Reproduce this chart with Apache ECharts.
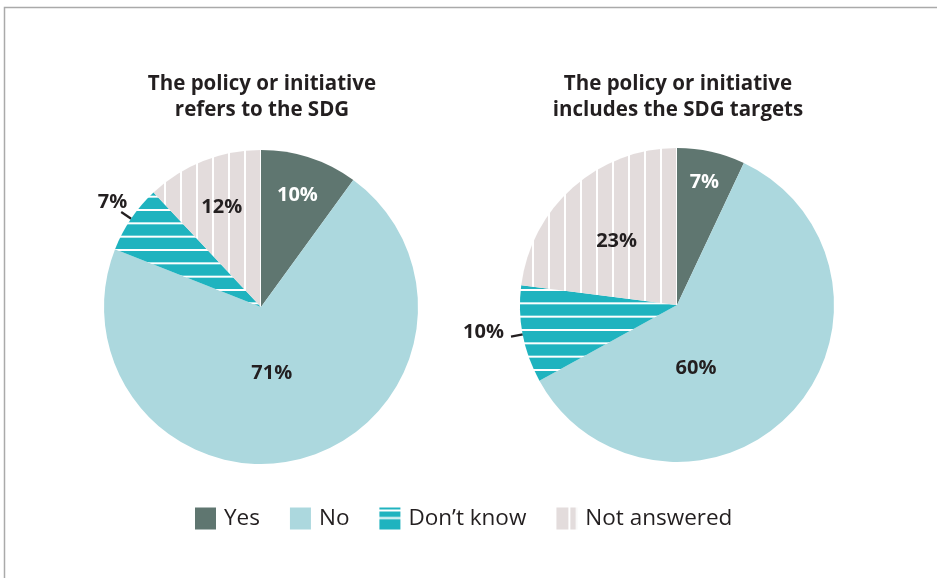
<!DOCTYPE html>
<html><head><meta charset="utf-8">
<script src="https://cdn.jsdelivr.net/npm/echarts@6/dist/echarts.min.js"></script>
<style>html,body{margin:0;padding:0;background:#fff}#c{width:937px;height:578px}</style>
</head><body><div id="c"></div>
<script>
// ---- data ----
const categories = ['Yes', 'No', 'Don\u2019t know', 'Not answered'];
const refersValues = [10, 71, 7, 12];
const targetsValues = [7, 60, 10, 23];
const chartTitles = ['The policy or initiative\nrefers to the SDG', 'The policy or initiative\nincludes the SDG targets'];

// ---- style ----
const FONT = '"Open Sans", "Noto Sans", sans-serif';
const TEXT = '#231f20';
const R = 157;
const centers = [[261, 307], [677, 305]];
// label placement per slice: [radius fraction, angle shift deg] (null = outside)
const labelPlace = [
  [[0.75, 0], [0.43, 7], null, [0.68, 0]],
  [[0.8, 0], [0.42, 30], null, [0.56, -2]]
];
// small nudge for outside labels [dx, dy]
const outsideNudge = [[11, -10], [-2, -4]];

function stripeCanvas(w, h, vertical, bg, lines, lw) {
  const c = document.createElement('canvas');
  c.width = w; c.height = h;
  const x = c.getContext('2d');
  x.fillStyle = bg; x.fillRect(0, 0, w, h);
  x.fillStyle = '#ffffff';
  lines.forEach(p => { if (vertical) x.fillRect(p, 0, lw, h); else x.fillRect(0, p, w, lw); });
  return c;
}
const dkPattern = { image: stripeCanvas(40, 40, false, '#1fb3bf', [0, 13.33, 26.67], 2), repeat: 'repeat', x: 0, y: 9 };
const naPattern = { image: stripeCanvas(16, 16, true, '#e3dcdc', [0], 2), repeat: 'repeat', x: 4, y: 0 };
const dkLegend = { image: stripeCanvas(22, 22, false, '#1fb3bf', [6, 13.5], 2), repeat: 'repeat', x: 0, y: 502 };
const naLegend = { image: stripeCanvas(22, 22, true, '#e3dcdc', [6, 13.5], 2), repeat: 'repeat', x: 556, y: 0 };
const fills = ['#5f7670', '#acd8de', dkPattern, naPattern];
const labelColors = ['#ffffff', TEXT, TEXT, TEXT];

function makeSeries(values, si) {
  const total = values.reduce((a, b) => a + b, 0);
  const mids = [];
  let cum = 0;
  values.forEach(v => { mids.push((cum + v / 2) / total * 360); cum += v; });
  return {
    type: 'pie',
    center: centers[si],
    radius: [0, R],
    startAngle: 90,
    clockwise: true,
    silent: true,
    animation: false,
    itemStyle: { borderWidth: 0 },
    labelLine: { length: 12, length2: 0, lineStyle: { color: TEXT, width: 2.2 } },
    data: values.map((v, i) => ({
      name: categories[i],
      value: v,
      itemStyle: { color: fills[i] },
      label: {
        show: true,
        position: labelPlace[si][i] ? 'inside' : 'outside',
        formatter: '{c}%',
        fontFamily: FONT, fontSize: 20, fontWeight: 'bold',
        color: labelColors[i]
      },
      labelLine: { show: !labelPlace[si][i] }
    })),
    labelLayout: function (p) {
      const lp = labelPlace[si][p.dataIndex];
      if (!lp) return { dx: outsideNudge[si][0], dy: outsideNudge[si][1] };
      const a = (mids[p.dataIndex] + lp[1]) * Math.PI / 180;
      const rr = lp[0] * R;
      return { x: centers[si][0] + rr * Math.sin(a), y: centers[si][1] - rr * Math.cos(a), align: 'center', verticalAlign: 'middle' };
    }
  };
}

const chart = echarts.init(document.getElementById('c'), null, { renderer: 'canvas' });
chart.setOption({
  backgroundColor: '#ffffff',
  animation: false,
  title: chartTitles.map((t, i) => ({
    text: t,
    left: centers[i][0] - 4, top: 66,
    textAlign: 'center',
    textStyle: { fontFamily: FONT, fontSize: 20.5, fontWeight: 'bold', color: TEXT, lineHeight: 26 }
  })),
  legend: {
    left: 190, top: 502,
    itemWidth: 21, itemHeight: 22, itemGap: 30,
    selectedMode: false,
    icon: 'rect',
    textStyle: { fontFamily: FONT, fontSize: 22.5, fontWeight: 500, color: TEXT, padding: [0, 0, 0, 3] },
    data: [
      { name: categories[0], itemStyle: { color: '#5f7670' } },
      { name: categories[1], itemStyle: { color: '#acd8de' } },
      { name: categories[2], itemStyle: { color: dkLegend } },
      { name: categories[3], itemStyle: { color: naLegend } }
    ]
  },
  graphic: [
    { type: 'polyline', silent: true, shape: { points: [[4.5, 578], [4.5, 7.5], [937, 7.5]] }, style: { stroke: '#aaaaaa', lineWidth: 1.5, fill: null } }
  ],
  series: [makeSeries(refersValues, 0), makeSeries(targetsValues, 1)]
});
</script>
</body></html>
